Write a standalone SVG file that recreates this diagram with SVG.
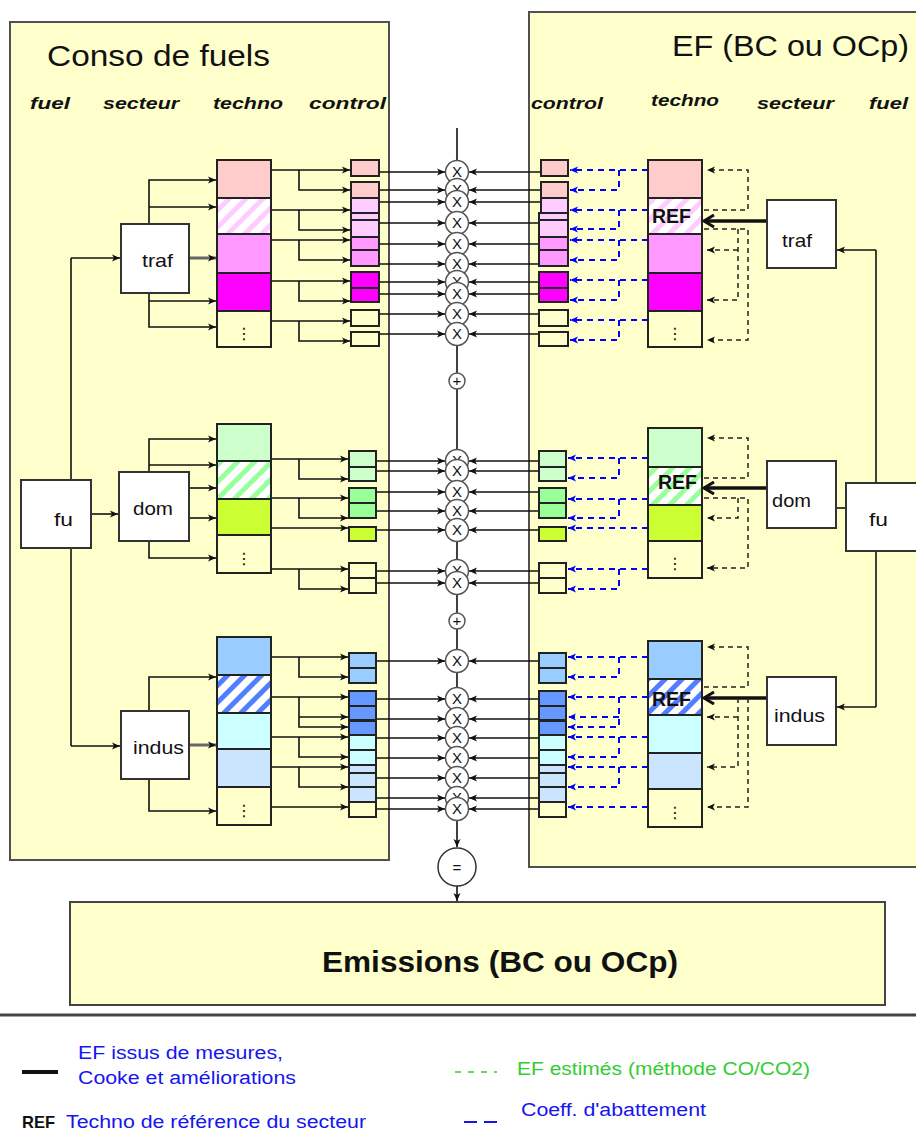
<svg xmlns="http://www.w3.org/2000/svg" width="916" height="1147" viewBox="0 0 916 1147">
<defs>
<style>
.panel{fill:#FFFFCC;stroke:#505050;stroke-width:2}
.box{fill:#fff;stroke:#333;stroke-width:2}
.c{stroke:#222;stroke-width:2}
.ln{stroke:#111;stroke-width:1.6;fill:none;marker-end:url(#ah)}
.lg{stroke:#666;stroke-width:3;fill:none;marker-end:url(#ah)}
.pl{stroke:#111;stroke-width:1.6;fill:none}
.bd{stroke:#0000FF;stroke-width:2;stroke-dasharray:6 5;fill:none;marker-end:url(#ahb)}
.kd{stroke:#222;stroke-width:1.5;stroke-dasharray:5 4;fill:none;marker-end:url(#ah)}
.th{stroke:#111;stroke-width:3.5;fill:none;marker-end:url(#ahc)}
.mc{fill:#fff;stroke:#555;stroke-width:1.5}
.mx{font-family:"Liberation Sans",Arial,sans-serif;font-size:15px;fill:#111;text-anchor:middle}
.lbl{font-family:"Liberation Sans",Arial,sans-serif;font-size:19px;fill:#111}
.hdr{font-family:"Liberation Sans",Arial,sans-serif;font-size:17px;font-weight:bold;font-style:italic;fill:#111}
.ttl{font-family:"Liberation Sans",Arial,sans-serif;font-size:29px;fill:#111}
.ref{font-family:"Liberation Sans",Arial,sans-serif;font-size:21px;font-weight:bold;fill:#111}
.dots{font-family:"DejaVu Sans",sans-serif;font-size:16px;fill:#111;text-anchor:middle}
.leg{font-family:"Liberation Sans",Arial,sans-serif;font-size:18px;fill:#1515F0}
</style>
<marker id="ah" markerUnits="userSpaceOnUse" markerWidth="9" markerHeight="8" refX="8" refY="4" orient="auto"><path d="M0,0.5 L8,4 L0,7.5 L2,4 z" fill="#111"/></marker>
<marker id="ahb" markerUnits="userSpaceOnUse" markerWidth="9" markerHeight="8" refX="8" refY="4" orient="auto"><path d="M0,0.5 L8,4 L0,7.5 L2,4 z" fill="#0000FF"/></marker>
<marker id="ahc" markerUnits="userSpaceOnUse" markerWidth="14" markerHeight="14" refX="11" refY="7" orient="auto"><path d="M1,1 L11,7 L1,13" fill="none" stroke="#111" stroke-width="3"/></marker>
<pattern id="hp" patternUnits="userSpaceOnUse" width="12" height="12" patternTransform="rotate(45)"><rect width="12" height="12" fill="#fff"/><rect width="5" height="12" fill="#FFCCFF"/></pattern>
<pattern id="hg" patternUnits="userSpaceOnUse" width="12" height="12" patternTransform="rotate(45)"><rect width="12" height="12" fill="#fff"/><rect width="5" height="12" fill="#99FF99"/></pattern>
<pattern id="hb" patternUnits="userSpaceOnUse" width="12" height="12" patternTransform="rotate(45)"><rect width="12" height="12" fill="#fff"/><rect width="5" height="12" fill="#4F7FFF"/></pattern>
<g id="mul"><circle r="11.5" class="mc"/><text y="5" class="mx">X</text></g>
</defs>

<rect width="916" height="1147" fill="#fff"/>

<g id="panel-conso">
<rect class="panel" x="10" y="22" width="379" height="838"/>
<text class="ttl" x="47" y="66" textLength="223" lengthAdjust="spacingAndGlyphs">Conso de fuels</text>
<text class="hdr" x="30" y="109" textLength="40" lengthAdjust="spacingAndGlyphs">fuel</text>
<text class="hdr" x="103" y="109" textLength="76" lengthAdjust="spacingAndGlyphs">secteur</text>
<text class="hdr" x="213" y="109" textLength="70" lengthAdjust="spacingAndGlyphs">techno</text>
<text class="hdr" x="309" y="109" textLength="77" lengthAdjust="spacingAndGlyphs">control</text>
</g>

<g id="panel-ef">
<rect class="panel" x="529" y="12" width="400" height="855"/>
<text class="ttl" x="672" y="56" textLength="237" lengthAdjust="spacingAndGlyphs">EF (BC ou OCp)</text>
<text class="hdr" x="531" y="109" textLength="72" lengthAdjust="spacingAndGlyphs">control</text>
<text class="hdr" x="651" y="106" textLength="68" lengthAdjust="spacingAndGlyphs">techno</text>
<text class="hdr" x="757" y="109" textLength="77" lengthAdjust="spacingAndGlyphs">secteur</text>
<text class="hdr" x="869" y="109" textLength="39" lengthAdjust="spacingAndGlyphs">fuel</text>
</g>

<g id="emissions">
<rect x="70" y="902" width="815" height="103" fill="#FFFFCC" stroke="#444" stroke-width="2"/>
<text x="322" y="972" font-family="Liberation Sans, Arial, sans-serif" font-size="29" font-weight="bold" fill="#111" textLength="356" lengthAdjust="spacingAndGlyphs">Emissions (BC ou OCp)</text>
</g>

<g id="connectors">
<!-- center spine -->
<path class="ln" d="M457,128 V847"/>
<path class="ln" d="M457,886 V901"/>
<!-- left fuel to sectors -->
<path class="pl" d="M71,258 V746"/>
<path class="ln" d="M71,258 H120"/>
<path class="ln" d="M71,746 H120"/>
<path class="ln" d="M91,514 H118"/>
<!-- left traf to techno -->
<path class="ln" d="M149,224 V180 H216"/>
<path class="ln" d="M149,207 H216"/>
<path class="lg" d="M190,258 H216"/>
<path class="ln" d="M149,293 V327 H216"/>
<path class="ln" d="M149,301 H216"/>
<!-- left traf techno to control -->
<path class="ln" d="M271,170 H350"/><path class="ln" d="M299,170 V190 H350"/>
<path class="ln" d="M271,210 H350"/><path class="ln" d="M299,210 V230 H350"/>
<path class="ln" d="M271,240 H350"/><path class="ln" d="M299,240 V260 H350"/>
<path class="ln" d="M271,281 H350"/><path class="ln" d="M299,281 V301 H350"/>
<path class="ln" d="M271,321 H350"/><path class="ln" d="M299,321 V341 H350"/>
<!-- left dom -->
<path class="ln" d="M149,472 V439 H216"/>
<path class="ln" d="M149,465 H216"/>
<path class="ln" d="M190,488 H216"/>
<path class="ln" d="M190,518 H216"/>
<path class="ln" d="M149,541 V558 H216"/>
<path class="ln" d="M271,459 H348"/><path class="ln" d="M299,459 V479 H348"/>
<path class="ln" d="M271,498 H348"/><path class="ln" d="M299,498 V518 H348"/>
<path class="ln" d="M271,528 H348"/>
<path class="ln" d="M271,569 H348"/><path class="ln" d="M299,569 V589 H348"/>
<!-- left indus -->
<path class="ln" d="M149,711 V677 H216"/>
<path class="lg" d="M190,745 H216"/>
<path class="ln" d="M149,779 V811 H216"/>
<path class="ln" d="M271,657 H348"/><path class="ln" d="M299,657 V677 H348"/>
<path class="ln" d="M271,697 H348"/><path class="ln" d="M299,697 V727 H348"/><path class="ln" d="M299,717 H348"/>
<path class="ln" d="M271,737 H348"/><path class="ln" d="M299,737 V757 H348"/>
<path class="ln" d="M271,767 H348"/><path class="ln" d="M299,767 V787 H348"/>
<path class="ln" d="M271,807 H348"/>
<!-- left control to multipliers -->
<path class="ln" d="M379,172 H445"/><path class="ln" d="M379,190 H445"/><path class="ln" d="M379,202 H445"/>
<path class="ln" d="M379,223 H445"/><path class="ln" d="M379,244 H445"/><path class="ln" d="M379,264 H445"/>
<path class="ln" d="M379,282 H445"/><path class="ln" d="M379,294 H445"/><path class="ln" d="M379,314 H445"/>
<path class="ln" d="M379,334 H445"/>
<path class="ln" d="M376,461 H445"/><path class="ln" d="M376,471 H445"/><path class="ln" d="M376,492 H445"/>
<path class="ln" d="M376,511 H445"/><path class="ln" d="M376,530 H445"/><path class="ln" d="M376,571 H445"/>
<path class="ln" d="M376,583 H445"/>
<path class="ln" d="M376,661 H445"/><path class="ln" d="M376,699 H445"/><path class="ln" d="M376,719 H445"/>
<path class="ln" d="M376,738 H445"/><path class="ln" d="M376,758 H445"/><path class="ln" d="M376,778 H445"/>
<path class="ln" d="M376,798 H445"/><path class="ln" d="M376,809 H445"/>
<!-- right control to multipliers -->
<path class="ln" d="M541,172 H469"/><path class="ln" d="M541,190 H469"/><path class="ln" d="M541,202 H469"/>
<path class="ln" d="M541,223 H469"/><path class="ln" d="M541,244 H469"/><path class="ln" d="M541,264 H469"/>
<path class="ln" d="M541,282 H469"/><path class="ln" d="M541,294 H469"/><path class="ln" d="M541,314 H469"/>
<path class="ln" d="M541,334 H469"/>
<path class="ln" d="M539,461 H469"/><path class="ln" d="M539,471 H469"/><path class="ln" d="M539,492 H469"/>
<path class="ln" d="M539,511 H469"/><path class="ln" d="M539,530 H469"/><path class="ln" d="M539,571 H469"/>
<path class="ln" d="M539,583 H469"/>
<path class="ln" d="M539,661 H469"/><path class="ln" d="M539,699 H469"/><path class="ln" d="M539,719 H469"/>
<path class="ln" d="M539,738 H469"/><path class="ln" d="M539,758 H469"/><path class="ln" d="M539,778 H469"/>
<path class="ln" d="M539,798 H469"/><path class="ln" d="M539,809 H469"/>
<!-- right blue dashed (abatement) traf -->
<path class="bd" d="M648,170 H570"/><path class="bd" d="M619,170 V190 H570"/>
<path class="bd" d="M648,210 H570"/><path class="bd" d="M619,210 V229 H570"/>
<path class="bd" d="M648,240 H570"/><path class="bd" d="M619,240 V260 H570"/>
<path class="bd" d="M648,280 H570"/><path class="bd" d="M619,280 V300 H570"/>
<path class="bd" d="M648,320 H570"/><path class="bd" d="M619,320 V340 H570"/>
<!-- dom -->
<path class="bd" d="M648,458 H568"/><path class="bd" d="M619,458 V478 H568"/>
<path class="bd" d="M648,499 H568"/><path class="bd" d="M619,499 V518 H568"/>
<path class="bd" d="M648,528 H568"/>
<path class="bd" d="M648,569 H568"/><path class="bd" d="M619,569 V589 H568"/>
<!-- indus -->
<path class="bd" d="M648,657 H568"/><path class="bd" d="M619,657 V677 H568"/>
<path class="bd" d="M648,697 H568"/><path class="bd" d="M619,697 V727 H568"/><path class="bd" d="M619,717 H568"/>
<path class="bd" d="M648,737 H568"/><path class="bd" d="M619,737 V757 H568"/>
<path class="bd" d="M648,767 H568"/><path class="bd" d="M619,767 V787 H568"/>
<path class="bd" d="M648,807 H568"/>
<!-- right fuel to sectors -->
<path class="pl" d="M876,250 V707"/>
<path class="ln" d="M876,250 H837"/>
<path class="ln" d="M876,707 H837"/>
<path class="pl" d="M836,508 H846"/>
<!-- thick REF arrows -->
<path class="th" d="M767,221 H704"/>
<path class="th" d="M767,488 H704"/>
<path class="th" d="M767,698 H704"/>
<!-- black dashed (estimated EF) traf -->
<path class="kd" d="M704,210 H748 V170 H707"/>
<path class="kd" d="M704,229 H748 V340 H707"/>
<path class="kd" d="M738,229 V300 H707"/>
<path class="kd" d="M738,250 H707"/>
<!-- dom -->
<path class="kd" d="M704,478 H748 V438 H707"/>
<path class="kd" d="M704,498 H748 V568 H707"/>
<path class="kd" d="M738,498 V518 H707"/>
<!-- indus -->
<path class="kd" d="M704,687 H748 V647 H707"/>
<path class="kd" d="M748,698 V807 H707"/>
<path class="kd" d="M738,698 V767 H707"/>
<path class="kd" d="M738,717 H707"/>
</g>

<g id="fu-left"><rect class="box" x="21" y="480" width="70" height="68"/><text class="lbl" x="54" y="526" textLength="19" lengthAdjust="spacingAndGlyphs">fu</text></g>
<g id="traf-left"><rect class="box" x="121" y="224" width="68" height="69"/><text class="lbl" x="142" y="267" textLength="31" lengthAdjust="spacingAndGlyphs">traf</text></g>
<g id="dom-left"><rect class="box" x="119" y="472" width="70" height="69"/><text class="lbl" x="133" y="515" textLength="40" lengthAdjust="spacingAndGlyphs">dom</text></g>
<g id="indus-left"><rect class="box" x="121" y="711" width="68" height="68"/><text class="lbl" x="133" y="754" textLength="51" lengthAdjust="spacingAndGlyphs">indus</text></g>

<g id="fu-right"><rect class="box" x="846" y="483" width="72" height="68"/><text class="lbl" x="869" y="526" textLength="19" lengthAdjust="spacingAndGlyphs">fu</text></g>
<g id="traf-right"><rect class="box" x="767" y="200" width="69" height="68"/><text class="lbl" x="782" y="247" textLength="30" lengthAdjust="spacingAndGlyphs">traf</text></g>
<g id="dom-right"><rect class="box" x="767" y="461" width="69" height="67"/><text class="lbl" x="772" y="507" textLength="39" lengthAdjust="spacingAndGlyphs">dom</text></g>
<g id="indus-right"><rect class="box" x="767" y="677" width="69" height="68"/><text class="lbl" x="774" y="722" textLength="51" lengthAdjust="spacingAndGlyphs">indus</text></g>

<g id="techno-traf-left">
<rect class="c" x="217" y="160" width="54" height="38" fill="#FFCCCC"/>
<rect class="c" x="217" y="198" width="54" height="36" fill="url(#hp)"/>
<rect class="c" x="217" y="234" width="54" height="39" fill="#FF99FF"/>
<rect class="c" x="217" y="273" width="54" height="38" fill="#FF00FF"/>
<rect class="c" x="217" y="311" width="54" height="36" fill="#FFFFCC"/>
<text class="dots" x="244" y="339">⋮</text>
</g>
<g id="control-traf-left">
<rect class="c" x="351" y="160" width="28" height="16" fill="#FFCCCC"/>
<rect class="c" x="351" y="182" width="28" height="16" fill="#FFCCCC"/>
<rect class="c" x="351" y="198" width="28" height="15" fill="#FFCCFF"/>
<rect class="c" x="351" y="213" width="28" height="7" fill="#FFCCFF"/>
<rect class="c" x="351" y="220" width="28" height="17" fill="#FFCCFF"/>
<rect class="c" x="351" y="237" width="28" height="13" fill="#FF99FF"/>
<rect class="c" x="351" y="250" width="28" height="16" fill="#FF99FF"/>
<rect class="c" x="351" y="272" width="28" height="16" fill="#FF00FF"/>
<rect class="c" x="351" y="288" width="28" height="14" fill="#FF00FF"/>
<rect class="c" x="351" y="310" width="28" height="16" fill="#FFFFCC"/>
<rect class="c" x="351" y="332" width="28" height="14" fill="#FFFFCC"/>
</g>

<g id="techno-dom-left">
<rect class="c" x="217" y="424" width="54" height="37" fill="#CCFFCC"/>
<rect class="c" x="217" y="461" width="54" height="38" fill="url(#hg)"/>
<rect class="c" x="217" y="499" width="54" height="36" fill="#CCFF33"/>
<rect class="c" x="217" y="535" width="54" height="38" fill="#FFFFCC"/>
<text class="dots" x="244" y="564">⋮</text>
</g>
<g id="control-dom-left">
<rect class="c" x="349" y="451" width="27" height="16" fill="#CCFFCC"/>
<rect class="c" x="349" y="467" width="27" height="14" fill="#CCFFCC"/>
<rect class="c" x="349" y="488" width="27" height="15" fill="#99FF99"/>
<rect class="c" x="349" y="503" width="27" height="15" fill="#99FF99"/>
<rect class="c" x="349" y="527" width="27" height="14" fill="#CCFF33"/>
<rect class="c" x="349" y="563" width="27" height="15" fill="#FFFFCC"/>
<rect class="c" x="349" y="578" width="27" height="15" fill="#FFFFCC"/>
</g>

<g id="techno-indus-left">
<rect class="c" x="217" y="637" width="54" height="38" fill="#99CCFF"/>
<rect class="c" x="217" y="675" width="54" height="38" fill="url(#hb)"/>
<rect class="c" x="217" y="713" width="54" height="36" fill="#CCFFFF"/>
<rect class="c" x="217" y="749" width="54" height="38" fill="#CCE5FF"/>
<rect class="c" x="217" y="787" width="54" height="38" fill="#FFFFCC"/>
<text class="dots" x="244" y="816">⋮</text>
</g>
<g id="control-indus-left">
<rect class="c" x="349" y="653" width="27" height="15" fill="#99CCFF"/>
<rect class="c" x="349" y="668" width="27" height="15" fill="#99CCFF"/>
<rect class="c" x="349" y="691" width="27" height="15" fill="#6699FF"/>
<rect class="c" x="349" y="706" width="27" height="14" fill="#6699FF"/>
<rect class="c" x="349" y="721" width="27" height="14" fill="#6699FF"/>
<rect class="c" x="349" y="735" width="27" height="15" fill="#CCFFFF"/>
<rect class="c" x="349" y="750" width="27" height="15" fill="#CCFFFF"/>
<rect class="c" x="349" y="765" width="27" height="8" fill="#CCE5FF"/>
<rect class="c" x="349" y="773" width="27" height="14" fill="#CCE5FF"/>
<rect class="c" x="349" y="787" width="27" height="15" fill="#CCE5FF"/>
<rect class="c" x="349" y="802" width="27" height="15" fill="#FFFFCC"/>
</g>

<g id="techno-traf-right">
<rect class="c" x="648" y="160" width="54" height="38" fill="#FFCCCC"/>
<rect class="c" x="648" y="198" width="54" height="36" fill="url(#hp)"/>
<rect class="c" x="648" y="234" width="54" height="39" fill="#FF99FF"/>
<rect class="c" x="648" y="273" width="54" height="38" fill="#FF00FF"/>
<rect class="c" x="648" y="311" width="54" height="36" fill="#FFFFCC"/>
<text class="ref" x="652" y="223" textLength="39" lengthAdjust="spacingAndGlyphs">REF</text>
<text class="dots" x="675" y="339">⋮</text>
</g>
<g id="control-traf-right">
<rect class="c" x="541" y="160" width="27" height="16" fill="#FFCCCC"/>
<rect class="c" x="541" y="182" width="27" height="16" fill="#FFCCCC"/>
<rect class="c" x="541" y="198" width="27" height="15" fill="#FFCCFF"/>
<rect class="c" x="539" y="213" width="29" height="7" fill="#FFCCFF"/>
<rect class="c" x="539" y="220" width="29" height="17" fill="#FFCCFF"/>
<rect class="c" x="539" y="237" width="29" height="13" fill="#FF99FF"/>
<rect class="c" x="539" y="250" width="29" height="16" fill="#FF99FF"/>
<rect class="c" x="539" y="272" width="29" height="16" fill="#FF00FF"/>
<rect class="c" x="539" y="288" width="29" height="14" fill="#FF00FF"/>
<rect class="c" x="539" y="310" width="29" height="16" fill="#FFFFCC"/>
<rect class="c" x="539" y="332" width="29" height="14" fill="#FFFFCC"/>
</g>

<g id="techno-dom-right">
<rect class="c" x="648" y="428" width="54" height="39" fill="#CCFFCC"/>
<rect class="c" x="648" y="467" width="54" height="38" fill="url(#hg)"/>
<rect class="c" x="648" y="505" width="54" height="36" fill="#CCFF33"/>
<rect class="c" x="648" y="541" width="54" height="37" fill="#FFFFCC"/>
<text class="ref" x="658" y="489" textLength="39" lengthAdjust="spacingAndGlyphs">REF</text>
<text class="dots" x="675" y="569">⋮</text>
</g>
<g id="control-dom-right">
<rect class="c" x="539" y="451" width="27" height="16" fill="#CCFFCC"/>
<rect class="c" x="539" y="467" width="27" height="14" fill="#CCFFCC"/>
<rect class="c" x="539" y="488" width="27" height="15" fill="#99FF99"/>
<rect class="c" x="539" y="503" width="27" height="15" fill="#99FF99"/>
<rect class="c" x="539" y="527" width="27" height="14" fill="#CCFF33"/>
<rect class="c" x="539" y="563" width="27" height="15" fill="#FFFFCC"/>
<rect class="c" x="539" y="578" width="27" height="15" fill="#FFFFCC"/>
</g>

<g id="techno-indus-right">
<rect class="c" x="648" y="641" width="54" height="38" fill="#99CCFF"/>
<rect class="c" x="648" y="679" width="54" height="36" fill="url(#hb)"/>
<rect class="c" x="648" y="715" width="54" height="38" fill="#CCFFFF"/>
<rect class="c" x="648" y="753" width="54" height="36" fill="#CCE5FF"/>
<rect class="c" x="648" y="789" width="54" height="38" fill="#FFFFCC"/>
<text class="ref" x="652" y="706" textLength="39" lengthAdjust="spacingAndGlyphs">REF</text>
<text class="dots" x="675" y="818">⋮</text>
</g>
<g id="control-indus-right">
<rect class="c" x="539" y="653" width="27" height="15" fill="#99CCFF"/>
<rect class="c" x="539" y="668" width="27" height="15" fill="#99CCFF"/>
<rect class="c" x="539" y="691" width="27" height="15" fill="#6699FF"/>
<rect class="c" x="539" y="706" width="27" height="14" fill="#6699FF"/>
<rect class="c" x="539" y="721" width="27" height="14" fill="#6699FF"/>
<rect class="c" x="539" y="735" width="27" height="15" fill="#CCFFFF"/>
<rect class="c" x="539" y="750" width="27" height="15" fill="#CCFFFF"/>
<rect class="c" x="539" y="765" width="27" height="8" fill="#CCE5FF"/>
<rect class="c" x="539" y="773" width="27" height="14" fill="#CCE5FF"/>
<rect class="c" x="539" y="787" width="27" height="15" fill="#CCE5FF"/>
<rect class="c" x="539" y="802" width="27" height="15" fill="#FFFFCC"/>
</g>

<g id="multipliers">
<use href="#mul" x="457" y="172"/><use href="#mul" x="457" y="190"/><use href="#mul" x="457" y="202"/>
<use href="#mul" x="457" y="223"/><use href="#mul" x="457" y="244"/><use href="#mul" x="457" y="264"/>
<use href="#mul" x="457" y="282"/><use href="#mul" x="457" y="294"/><use href="#mul" x="457" y="314"/>
<use href="#mul" x="457" y="334"/>
<use href="#mul" x="457" y="461"/><use href="#mul" x="457" y="471"/><use href="#mul" x="457" y="492"/>
<use href="#mul" x="457" y="511"/><use href="#mul" x="457" y="530"/><use href="#mul" x="457" y="571"/>
<use href="#mul" x="457" y="583"/>
<use href="#mul" x="457" y="661"/><use href="#mul" x="457" y="699"/><use href="#mul" x="457" y="719"/>
<use href="#mul" x="457" y="738"/><use href="#mul" x="457" y="758"/><use href="#mul" x="457" y="778"/>
<use href="#mul" x="457" y="798"/><use href="#mul" x="457" y="809"/>
</g>
<g id="sum1"><circle cx="457" cy="381" r="8" class="mc"/><text x="457" y="386" class="mx" font-size="13">+</text></g>
<g id="sum2"><circle cx="457" cy="621" r="8" class="mc"/><text x="457" y="626" class="mx" font-size="13">+</text></g>
<g id="equals"><circle cx="457" cy="867" r="19" fill="#fff" stroke="#333" stroke-width="1.5"/><text x="457" y="873" class="mx" font-size="17">=</text></g>

<g id="legend">
<line x1="0" y1="1015" x2="916" y2="1015" stroke="#444" stroke-width="3"/>
<line x1="22" y1="1072" x2="58" y2="1072" stroke="#111" stroke-width="4"/>
<text class="leg" x="78" y="1059" textLength="205" lengthAdjust="spacingAndGlyphs">EF issus de mesures,</text>
<text class="leg" x="78" y="1084" textLength="218" lengthAdjust="spacingAndGlyphs">Cooke et améliorations</text>
<line x1="455" y1="1072" x2="497" y2="1072" stroke="#33CC33" stroke-width="1.5" stroke-dasharray="6 7"/>
<text class="leg" x="517" y="1075" fill="#33CC33" style="fill:#33CC33" textLength="293" lengthAdjust="spacingAndGlyphs">EF estimés (méthode CO/CO2)</text>
<text x="22" y="1128" font-family="Liberation Sans, Arial, sans-serif" font-size="17" font-weight="bold" fill="#111" textLength="33" lengthAdjust="spacingAndGlyphs">REF</text>
<text class="leg" x="66" y="1128" textLength="300" lengthAdjust="spacingAndGlyphs">Techno de référence du secteur</text>
<line x1="464" y1="1122" x2="497" y2="1122" stroke="#1515F0" stroke-width="2" stroke-dasharray="13 7"/>
<text class="leg" x="521" y="1116" textLength="185" lengthAdjust="spacingAndGlyphs">Coeff. d'abattement</text>
</g>
</svg>
